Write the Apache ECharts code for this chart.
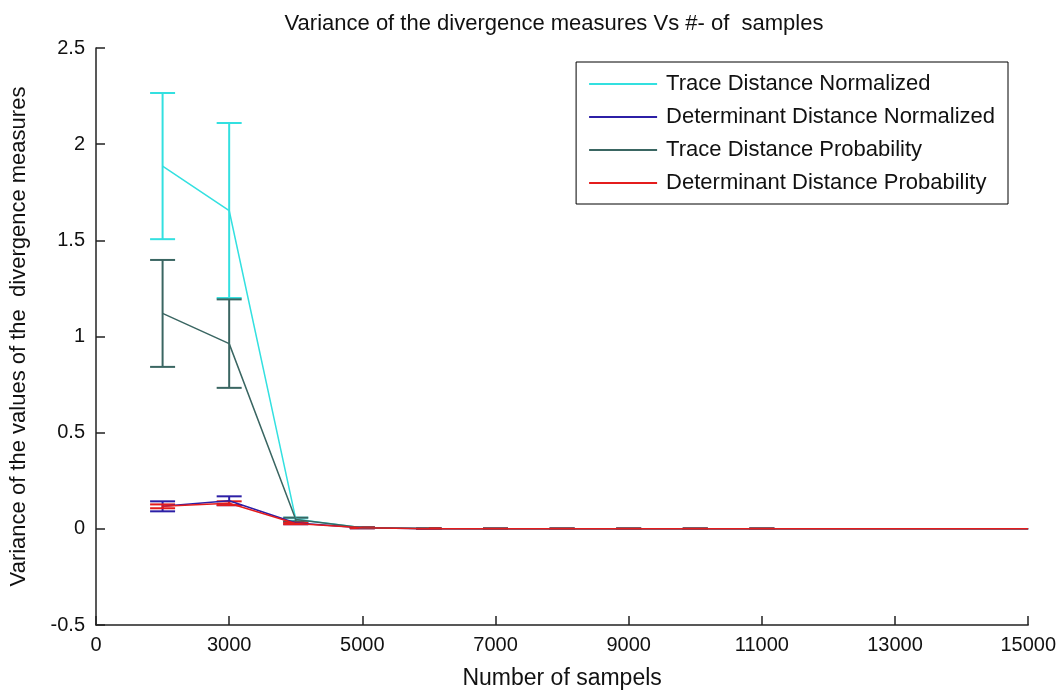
<!DOCTYPE html>
<html>
<head>
<meta charset="utf-8">
<script src="https://cdn.jsdelivr.net/npm/echarts@6/dist/echarts.min.js"></script>
<style>
html,body{margin:0;padding:0;background:#fff;}
#chart{width:1059px;height:695px;}
</style>
</head>
<body>
<div id="chart"></div>
<script>
const samples = [2000, 3000, 4000, 5000, 6000, 7000, 8000, 9000, 10000, 11000, 12000, 13000, 14000, 15000];
const xTickLabels = ['0', '3000', '5000', '7000', '9000', '11000', '13000', '15000'];
const seriesNames = ['Trace Distance Normalized', 'Determinant Distance Normalized', 'Trace Distance Probability', 'Determinant Distance Probability'];

const traceNorm    = [1.886, 1.655, 0.050, 0.006, 0.002, 0.001, 0.001, 0.001, 0.001, 0.001, 0.000, 0.000, 0.000, 0.000];
const traceNormErr = [0.380, 0.455, 0.008, 0.002, 0.001, 0.001, 0.001, 0.001, 0.001, 0.001, null, null, null, null];
const detNorm      = [0.117, 0.146, 0.030, 0.005, 0.001, 0.000, 0.000, 0.000, 0.000, 0.000, 0.000, 0.000, 0.000, 0.000];
const detNormErr   = [0.026, 0.023, 0.006, 0.002, 0.001, 0.001, 0.001, 0.001, 0.001, 0.001, null, null, null, null];
const traceProb    = [1.120, 0.963, 0.048, 0.006, 0.002, 0.001, 0.001, 0.001, 0.001, 0.001, 0.000, 0.000, 0.000, 0.000];
const traceProbErr = [0.278, 0.230, 0.010, 0.002, 0.001, 0.001, 0.001, 0.001, 0.001, 0.001, null, null, null, null];
const detProb      = [0.117, 0.133, 0.028, 0.005, 0.001, 0.000, 0.000, 0.000, 0.000, 0.000, 0.000, 0.000, 0.000, 0.000];
const detProbErr   = [0.010, 0.010, 0.004, 0.002, 0.001, 0.001, 0.001, 0.001, 0.001, 0.001, null, null, null, null];

const colors = ['#33e0e0', '#2c1fa6', '#3a6662', '#e41c1c'];
const FONT = "'Liberation Sans', Arial, sans-serif";

function lineData(vals) { return samples.map((s, i) => [s, vals[i]]); }
function errData(vals, errs) {
  const out = [];
  samples.forEach((s, i) => { if (errs[i] != null) out.push([s, vals[i] - errs[i], vals[i] + errs[i]]); });
  return out;
}
function errSeries(name, vals, errs, color) {
  return {
    type: 'custom', name: name,
    data: errData(vals, errs),
    encode: { x: 0, y: [1, 2] },
    silent: true,
    renderItem: function (params, api) {
      const x = api.value(0), lo = api.value(1), hi = api.value(2);
      const pHi = api.coord([x, hi]), pLo = api.coord([x, lo]);
      const w = 12.5;
      const st = { stroke: color, lineWidth: 2 };
      return {
        type: 'group',
        children: [
          { type: 'line', shape: { x1: pHi[0], y1: pHi[1], x2: pLo[0], y2: pLo[1] }, style: st },
          { type: 'line', shape: { x1: pHi[0] - w, y1: pHi[1], x2: pHi[0] + w, y2: pHi[1] }, style: st },
          { type: 'line', shape: { x1: pLo[0] - w, y1: pLo[1], x2: pLo[0] + w, y2: pLo[1] }, style: st }
        ]
      };
    }
  };
}
function lineSeries(name, vals, color) {
  return {
    type: 'line', name: name, data: lineData(vals),
    symbol: 'none', showSymbol: false, silent: true,
    lineStyle: { color: color, width: 1.5 },
    itemStyle: { color: color }
  };
}

const allVals = [traceNorm, detNorm, traceProb, detProb];
const allErrs = [traceNormErr, detNormErr, traceProbErr, detProbErr];
const series = [];
for (let k = 0; k < 4; k++) {
  series.push(lineSeries(seriesNames[k], allVals[k], colors[k]));
  series.push(errSeries('err' + k, allVals[k], allErrs[k], colors[k]));
}

const chart = echarts.init(document.getElementById('chart'));
chart.setOption({
  backgroundColor: '#ffffff',
  animation: false,
  title: {
    text: 'Variance of the divergence measures Vs #- of  samples',
    left: 549, top: 8, textAlign: 'center',
    textStyle: { fontFamily: FONT, fontSize: 22, fontWeight: 'normal', color: '#111' }
  },
  grid: { left: 93, right: 29, top: 48, bottom: 62, containLabel: false },
  legend: {
    data: seriesNames,
    orient: 'vertical',
    right: 51, top: 62,
    backgroundColor: '#fff',
    borderColor: '#000', borderWidth: 1,
    padding: [10, 13, 9, 13],
    icon: 'rect',
    itemWidth: 68, itemHeight: 2, itemGap: 9,
    textStyle: { fontFamily: FONT, fontSize: 22, color: '#111', lineHeight: 24, padding: [0, 0, 0, 4] }
  },
  xAxis: {
    type: 'value', min: 1000, max: 15000, interval: 2000,
    name: 'Number of sampels', nameLocation: 'middle', nameGap: 42,
    nameTextStyle: { fontFamily: FONT, fontSize: 23, color: '#111' },
    axisLine: { onZero: false, lineStyle: { color: '#222', width: 1.5 } },
    axisTick: { inside: true, length: 9, lineStyle: { color: '#222', width: 1.5 } },
    axisLabel: {
      fontFamily: FONT, fontSize: 20, color: '#111', margin: 10,
      formatter: function (v) { return xTickLabels[Math.round((v - 1000) / 2000)]; }
    },
    splitLine: { show: false }
  },
  yAxis: {
    type: 'value', min: -0.5, max: 2.5, interval: 0.5,
    name: 'Variance of the values of the  divergence measures', nameLocation: 'middle', nameGap: 66,
    nameTextStyle: { fontFamily: FONT, fontSize: 22, color: '#111' },
    axisLine: { onZero: false, lineStyle: { color: '#222', width: 1.5 } },
    axisTick: { inside: true, length: 9, lineStyle: { color: '#222', width: 1.5 } },
    axisLabel: { fontFamily: FONT, fontSize: 20, color: '#111', margin: 11 },
    splitLine: { show: false }
  },
  series: series
});
</script>
</body>
</html>
